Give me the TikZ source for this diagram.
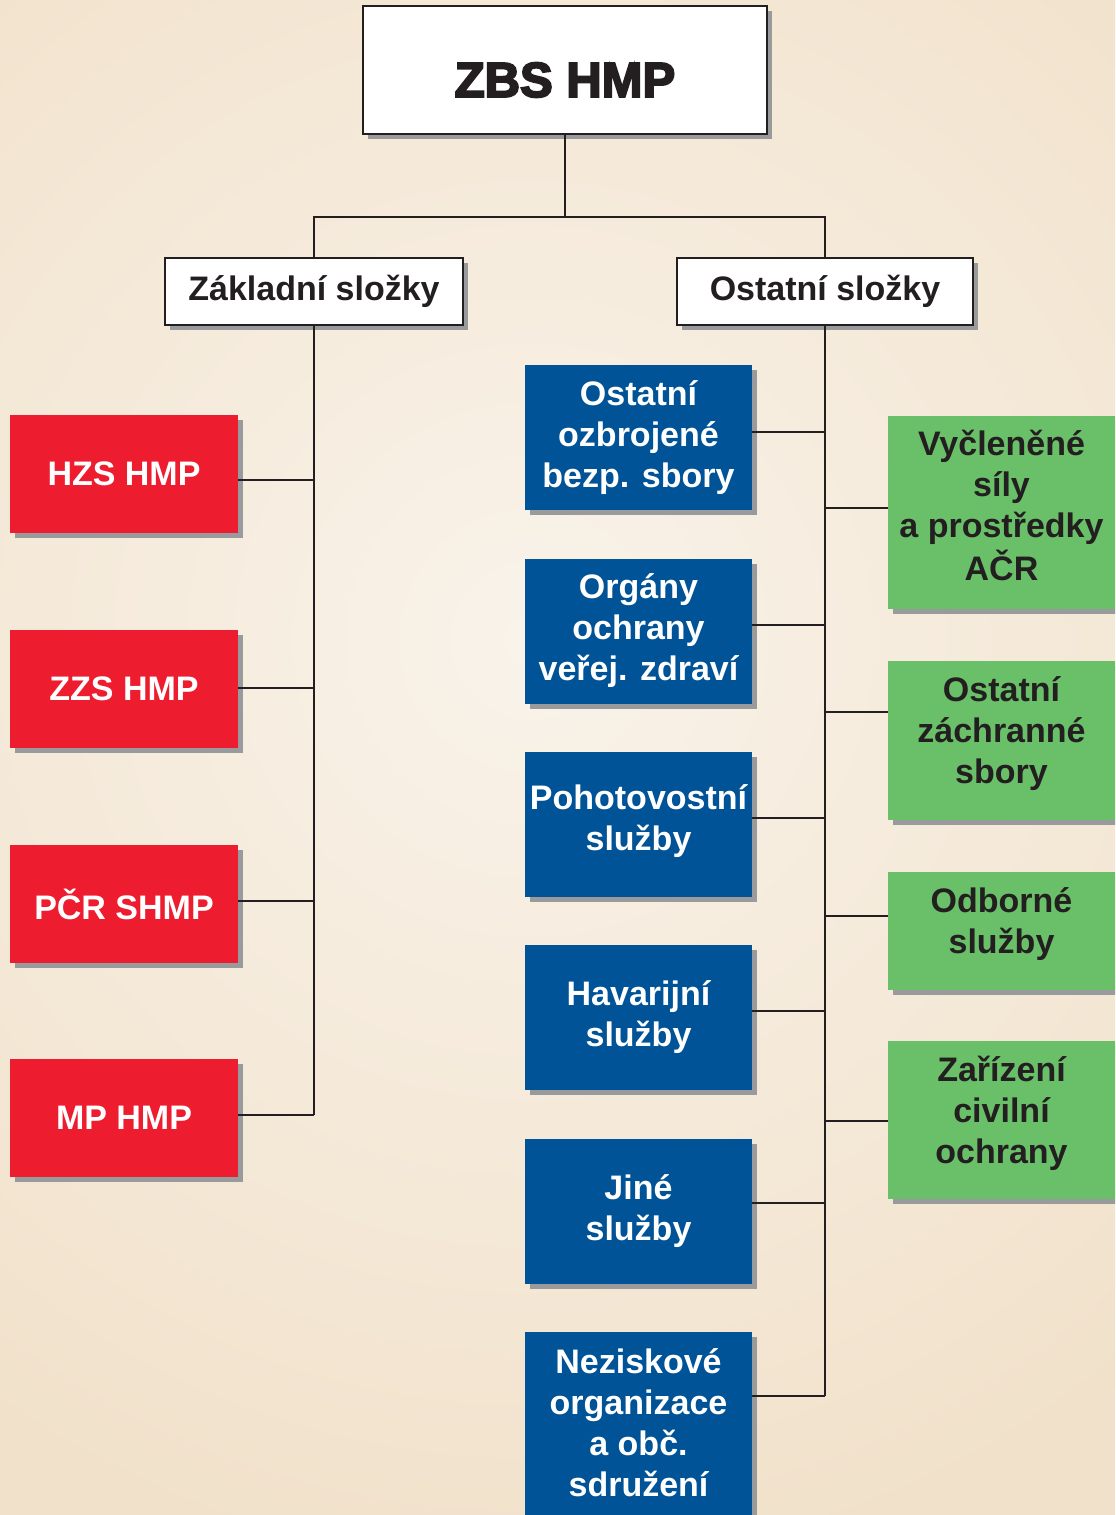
\documentclass[tikz,border=0pt]{standalone}
\usepackage{fontspec}
\setmainfont{Liberation Sans}
\newfontfamily\heavyfont{Liberation Sans Bold}[FakeBold=4]
\usetikzlibrary{shadows}
\definecolor{bgin}{HTML}{F9F3EA}
\definecolor{bgout}{HTML}{F1E1CA}
\definecolor{zred}{HTML}{ED1C2E}
\definecolor{zblue}{HTML}{005396}
\definecolor{zgreen}{HTML}{6ABF69}
\definecolor{shgray}{HTML}{999A9C}
\definecolor{ink}{HTML}{231F20}
\newcommand\liftlines[2]{\raisebox{#1}[\height][\depth]{\begin{tabular}{@{}c@{}}#2\end{tabular}}}
\begin{document}
\begin{tikzpicture}[x=0.75pt,y=-0.75pt,
  base/.style={rectangle, inner sep=0pt, outer sep=0pt, align=center,
    font=\bfseries\fontsize{25.5}{30.75}\selectfont,
    general shadow={fill=shgray, shadow xshift=3.75pt, shadow yshift=-3.75pt}},
  whitebox/.style={base, fill=white, draw=ink, line width=1.5pt, text=ink},
  redbox/.style={base, fill=zred, text=white, minimum width=171pt, minimum height=88.5pt},
  bluebox/.style={base, fill=zblue, text=white, minimum width=170.25pt, minimum height=108.75pt},
  greenbox/.style={base, fill=zgreen, text=ink, minimum width=170.25pt},
  wire/.style={draw=ink, line width=1.5pt}]
\useasboundingbox (0,0) rectangle (1115,1515);
\clip (0,0) rectangle (1115,1515);
\fill[bgout] (0,0) rectangle (1115,1515);
\shade[inner color=bgin, outer color=bgout] (530,640) circle (950);

% top levels
\node[whitebox, minimum width=303pt, minimum height=96pt,
  font=\heavyfont\fontsize{36.75}{44}\selectfont] (top) at (565,70) {\raisebox{-7.5pt}[\height][\depth]{ZBS HMP}};
\node[whitebox, minimum width=223.5pt, minimum height=50.25pt] (zak) at (314,291.5) {Základní složky};
\node[whitebox, minimum width=222pt, minimum height=50.25pt] (ost) at (825,291.5) {Ostatní složky};

% red boxes
\node[redbox] (hzs) at (124,474) {HZS HMP};
\node[redbox] (zzs) at (124,689) {ZZS HMP};
\node[redbox] (pcr) at (124,904) {PČR SHMP};
\node[redbox] (mp)  at (124,1118) {MP HMP};

% blue boxes
\node[bluebox] (b1) at (638.5,437.5) {Ostatní\\ozbrojené\\bezp. sbory};
\node[bluebox] (b2) at (638.5,631) {Orgány\\ochrany\\veřej. zdraví};
\node[bluebox] (b3) at (638.5,824.5) {\liftlines{2pt}{Pohotovostní\\služby}};
\node[bluebox] (b4) at (638.5,1017.5) {Havarijní\\služby};
\node[bluebox] (b5) at (638.5,1211.5) {Jiné\\služby};
\node[bluebox, minimum height=142.5pt] (b6) at (638.5,1427) {\liftlines{0pt}{Neziskové\\organizace\\a obč.\\sdružení}};

% green boxes
\node[greenbox, minimum height=144.75pt] (g1) at (1001.5,512.5) {\liftlines{2.25pt}{Vyčleněné\\síly\\a prostředky\\AČR}};
\node[greenbox, minimum height=119.25pt] (g2) at (1001.5,740.5) {\liftlines{4.5pt}{Ostatní\\záchranné\\sbory}};
\node[greenbox, minimum height=88.5pt] (g3) at (1001.5,931) {\liftlines{4.5pt}{Odborné\\služby}};
\node[greenbox, minimum height=118.5pt] (g4) at (1001.5,1120) {\liftlines{4.5pt}{Zařízení\\civilní\\ochrany}};

% connectors
\coordinate (bus) at (top.south |- 0,217);
\draw[wire] (top.south) -- (bus);
\draw[wire] (bus) -| (zak.north);
\draw[wire] (bus) -| (ost.north);

\draw[wire] (zak.south) -- (zak.south |- 0,1115);
\draw[wire] (hzs.east |- 0,480) -- (zak.south |- 0,480);
\draw[wire] (zzs.east |- 0,688) -- (zak.south |- 0,688);
\draw[wire] (pcr.east |- 0,901) -- (zak.south |- 0,901);
\draw[wire] (mp.east |- 0,1115) -- (zak.south |- 0,1115);

\draw[wire] (ost.south) -- (ost.south |- 0,1396);
\draw[wire] (b1.east |- 0,432) -- (ost.south |- 0,432);
\draw[wire] (b2.east |- 0,625) -- (ost.south |- 0,625);
\draw[wire] (b3.east |- 0,818) -- (ost.south |- 0,818);
\draw[wire] (b4.east |- 0,1011) -- (ost.south |- 0,1011);
\draw[wire] (b5.east |- 0,1203) -- (ost.south |- 0,1203);
\draw[wire] (b6.east |- 0,1396) -- (ost.south |- 0,1396);

\draw[wire] (g1.west |- 0,508) -- (ost.south |- 0,508);
\draw[wire] (g2.west |- 0,712) -- (ost.south |- 0,712);
\draw[wire] (g3.west |- 0,916) -- (ost.south |- 0,916);
\draw[wire] (g4.west |- 0,1121) -- (ost.south |- 0,1121);
\end{tikzpicture}
\end{document}
